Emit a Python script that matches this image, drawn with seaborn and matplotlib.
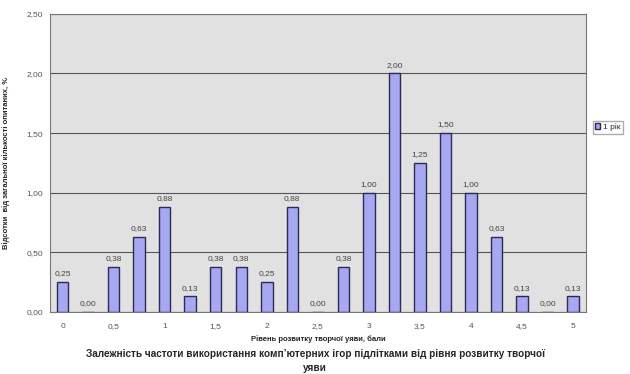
import matplotlib
matplotlib.use("Agg")
import matplotlib.pyplot as plt
import seaborn as sns
import pandas as pd

levels = ["0", "0,25", "0,5", "0,75", "1", "1,25", "1,5", "1,75", "2", "2,25", "2,5",
          "2,75", "3", "3,25", "3,5", "3,75", "4", "4,25", "4,5", "4,75", "5"]
shares = [0.25, 0.00, 0.38, 0.63, 0.88, 0.13, 0.38, 0.38, 0.25, 0.88, 0.00,
          0.38, 1.00, 2.00, 1.25, 1.50, 1.00, 0.63, 0.13, 0.00, 0.13]
series_name = "1 рік"

df = pd.DataFrame({"level": levels, "share": shares, "series": series_name})

sns.set_theme(style="white")
plt.rcParams["font.family"] = ["Liberation Sans", "DejaVu Sans"]

fig = plt.figure(figsize=(6.3, 3.74), dpi=100)
ax = fig.add_axes([0.079, 0.166, 0.851, 0.797])
ax.set_facecolor("#e1e1e1")

sns.barplot(data=df, x="level", y="share", hue="series", order=levels,
            palette=["#9a9aff"], width=0.45, edgecolor="#2b2b55", linewidth=1.0,
            ax=ax, legend=True)

ax.set_ylim(0, 2.5)
ax.set_yticks([0, 0.5, 1.0, 1.5, 2.0, 2.5])
ax.set_yticklabels(["0,00", "0,50", "1,00", "1,50", "2,00", "2,50"], fontsize=6, color="#555555")
ax.yaxis.grid(True, color="#555555", linewidth=0.8)
ax.set_axisbelow(True)

ax.set_xticks(range(0, len(levels), 2))
ax.set_xticklabels(levels[::2], fontsize=6, color="#555555")
ax.tick_params(axis="x", length=0, pad=8)
ax.tick_params(axis="y", length=3, color="#555555", pad=2)

for sp in ax.spines.values():
    sp.set_color("#777777")
    sp.set_linewidth(0.8)

for i, v in enumerate(shares):
    ax.text(i, v + 0.04, f"{v:.2f}".replace(".", ","), ha="center", va="bottom",
            fontsize=6, color="#444444")

ax.set_xlabel("Рівень розвитку творчої уяви, бали", fontsize=5.5, fontweight="bold",
              labelpad=4)
ax.set_ylabel("Відсотки  від загальної кількості опитаних, %", fontsize=5.5,
              fontweight="bold", labelpad=12)

leg = ax.legend(loc="center left", bbox_to_anchor=(1.005, 0.62), fontsize=6,
                frameon=True, handlelength=0.6, handleheight=0.6, borderpad=0.3,
                handletextpad=0.3, fancybox=False, edgecolor="#999999")

fig.text(0.5, 0.034, "Залежність частоти використання комп’ютерних ігор підлітками від рівня розвитку творчої\nуяви",
         ha="center", va="center", fontsize=7.2, fontweight="bold", linespacing=1.5)

fig.savefig("out.png", dpi=100, facecolor="white")
